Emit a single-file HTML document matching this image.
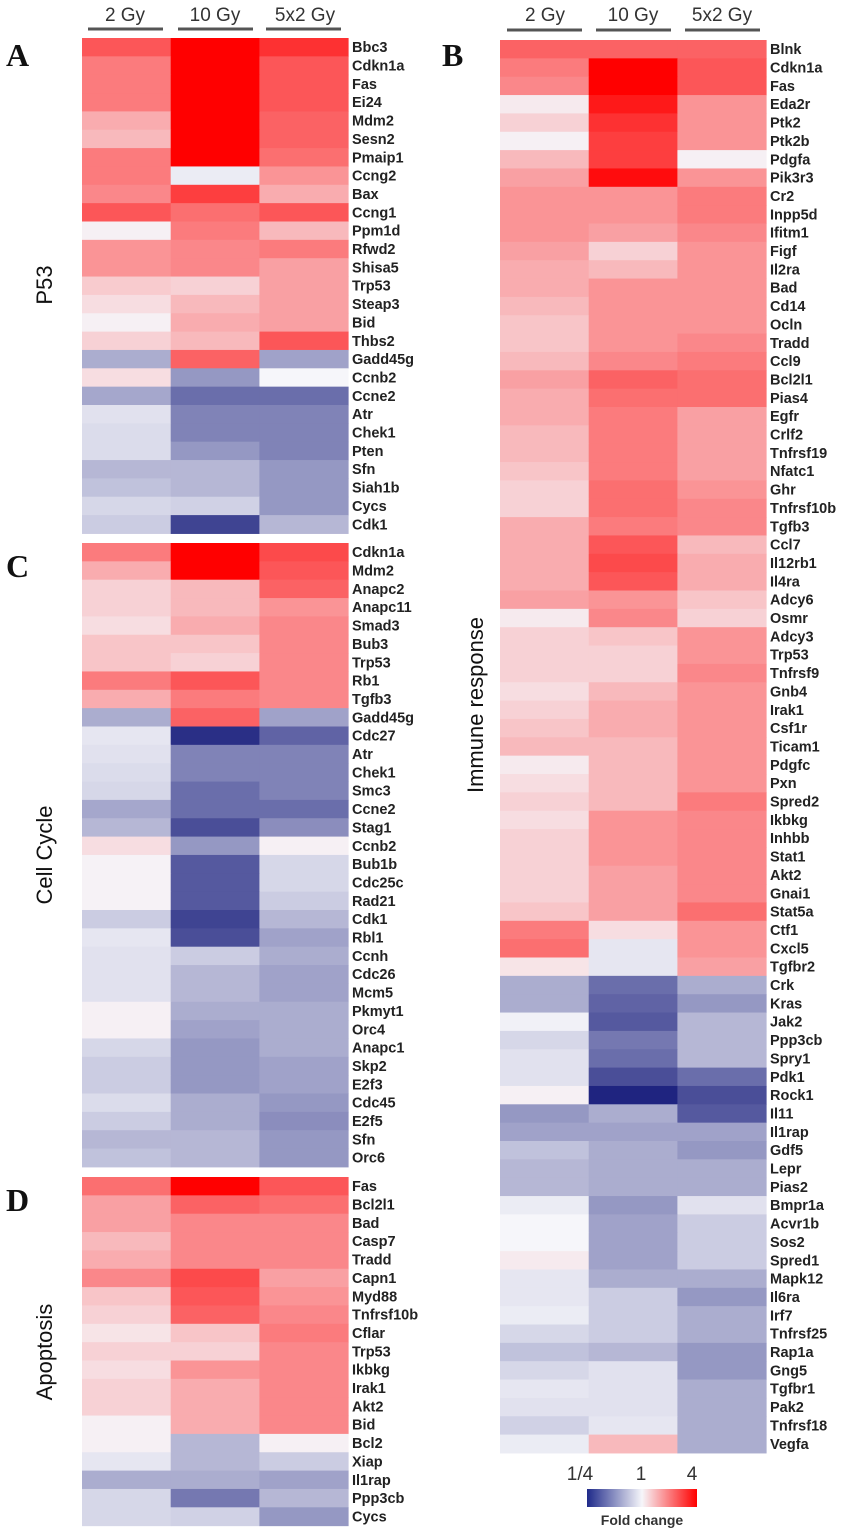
<!DOCTYPE html>
<html><head><meta charset="utf-8"><style>
html,body{margin:0;padding:0;background:#fff;}
svg{display:block;font-family:"Liberation Sans",Arial,sans-serif;}
.g{font-size:14.5px;font-weight:bold;fill:#222;}
.h{font-size:19px;fill:#333;}
.p{font-family:"Liberation Serif",serif;font-size:32px;font-weight:bold;fill:#111;}
.s{font-size:22px;fill:#111;}
</style></head><body>
<svg id="chart" width="846" height="1529" viewBox="0 0 846 1529" xmlns="http://www.w3.org/2000/svg">
<g>
<text class="h" x="125" y="21" text-anchor="middle">2 Gy</text>
<text class="h" x="215" y="21" text-anchor="middle">10 Gy</text>
<text class="h" x="305" y="21" text-anchor="middle">5x2 Gy</text>
<line x1="88" y1="29" x2="163" y2="29" stroke="#555" stroke-width="3"/>
<line x1="178" y1="29" x2="253" y2="29" stroke="#555" stroke-width="3"/>
<line x1="266" y1="29" x2="341" y2="29" stroke="#555" stroke-width="3"/>
</g>
<g>
<text class="h" x="545" y="21" text-anchor="middle">2 Gy</text>
<text class="h" x="633" y="21" text-anchor="middle">10 Gy</text>
<text class="h" x="722" y="21" text-anchor="middle">5x2 Gy</text>
<line x1="507" y1="30" x2="582" y2="30" stroke="#555" stroke-width="3"/>
<line x1="596" y1="30" x2="671" y2="30" stroke="#555" stroke-width="3"/>
<line x1="685" y1="30" x2="760" y2="30" stroke="#555" stroke-width="3"/>
</g>
<text class="p" x="6" y="66">A</text>
<text class="p" x="442" y="66">B</text>
<text class="p" x="6" y="577">C</text>
<text class="p" x="6" y="1211">D</text>
<text class="s" transform="translate(52,285) rotate(-90)" text-anchor="middle">P53</text>
<text class="s" transform="translate(52,855) rotate(-90)" text-anchor="middle">Cell Cycle</text>
<text class="s" transform="translate(52,1352) rotate(-90)" text-anchor="middle">Apoptosis</text>
<text class="s" transform="translate(483,705) rotate(-90)" text-anchor="middle">Immune response</text>
<g>
<defs><linearGradient id="lg" x1="0" x2="1" y1="0" y2="0">
<stop offset="0" stop-color="#1f2a8a"/><stop offset="0.5" stop-color="#f6f6fa"/><stop offset="1" stop-color="#ff0000"/></linearGradient></defs>
<rect x="587" y="1489" width="110" height="18" fill="url(#lg)"/>
<text class="h" x="580" y="1480" text-anchor="middle">1/4</text>
<text class="h" x="641" y="1480" text-anchor="middle">1</text>
<text class="h" x="692" y="1480" text-anchor="middle">4</text>
<text x="642" y="1525" text-anchor="middle" style="font-size:14px;font-weight:bold;fill:#333">Fold change</text>
</g>
</svg>
<script>
// log2 fold change values: [2 Gy, 10 Gy, 5x2 Gy]
const genesA = ["Bbc3","Cdkn1a","Fas","Ei24","Mdm2","Sesn2","Pmaip1","Ccng2","Bax","Ccng1","Ppm1d","Rfwd2","Shisa5","Trp53","Steap3","Bid","Thbs2","Gadd45g","Ccnb2","Ccne2","Atr","Chek1","Pten","Sfn","Siah1b","Cycs","Cdk1"];
const valsA = [[1.3,2,1.6],[1,2,1.3],[1,2,1.3],[1,2,1.3],[0.6,2,1.2],[0.5,2,1.2],[1,2,1.1],[1,-0.1,0.8],[0.9,1.5,0.6],[1.3,1.1,1.3],[0.05,1,0.5],[0.8,0.9,1],[0.8,0.9,0.7],[0.35,0.3,0.7],[0.2,0.5,0.7],[0.05,0.6,0.7],[0.3,0.5,1.3],[-0.7,1.2,-0.8],[0.2,-0.9,0],[-0.75,-1.3,-1.3],[-0.2,-1.1,-1.1],[-0.25,-1.1,-1.1],[-0.25,-0.9,-1.1],[-0.6,-0.6,-0.9],[-0.5,-0.6,-0.9],[-0.3,-0.35,-0.9],[-0.4,-1.7,-0.6]];
const genesC = ["Cdkn1a","Mdm2","Anapc2","Anapc11","Smad3","Bub3","Trp53","Rb1","Tgfb3","Gadd45g","Cdc27","Atr","Chek1","Smc3","Ccne2","Stag1","Ccnb2","Bub1b","Cdc25c","Rad21","Cdk1","Rbl1","Ccnh","Cdc26","Mcm5","Pkmyt1","Orc4","Anapc1","Skp2","E2f3","Cdc45","E2f5","Sfn","Orc6"];
const valsC = [[1,2,1.4],[0.6,2,1.3],[0.3,0.5,1.2],[0.3,0.5,0.8],[0.2,0.6,0.9],[0.4,0.4,0.9],[0.4,0.3,0.9],[1,1.3,0.9],[0.6,1,0.9],[-0.7,1.2,-0.8],[-0.15,-1.9,-1.4],[-0.2,-1.1,-1.1],[-0.25,-1.1,-1.1],[-0.3,-1.3,-1.1],[-0.75,-1.3,-1.3],[-0.6,-1.6,-1],[0.2,-0.9,0.05],[0.03,-1.5,-0.3],[0.03,-1.5,-0.3],[0.03,-1.5,-0.4],[-0.4,-1.7,-0.6],[-0.15,-1.6,-0.8],[-0.2,-0.4,-0.7],[-0.2,-0.6,-0.8],[-0.2,-0.6,-0.8],[0.05,-0.7,-0.7],[0.05,-0.8,-0.7],[-0.3,-0.9,-0.7],[-0.4,-0.9,-0.8],[-0.4,-0.9,-0.8],[-0.25,-0.7,-0.9],[-0.4,-0.7,-1],[-0.6,-0.6,-0.9],[-0.5,-0.6,-0.9]];
const genesD = ["Fas","Bcl2l1","Bad","Casp7","Tradd","Capn1","Myd88","Tnfrsf10b","Cflar","Trp53","Ikbkg","Irak1","Akt2","Bid","Bcl2","Xiap","Il1rap","Ppp3cb","Cycs"];
const valsD = [[1.1,2,1.3],[0.7,1.2,1.1],[0.7,0.9,0.9],[0.5,0.9,0.9],[0.6,0.9,0.9],[0.9,1.4,0.7],[0.4,1.3,0.8],[0.3,1.2,0.9],[0.15,0.4,1],[0.3,0.3,0.9],[0.2,0.8,0.9],[0.3,0.6,0.9],[0.3,0.6,0.9],[0.05,0.6,0.9],[0.05,-0.6,0.05],[-0.15,-0.6,-0.4],[-0.7,-0.7,-0.8],[-0.3,-1.2,-0.6],[-0.3,-0.35,-0.9]];
const genesB = ["Blnk","Cdkn1a","Fas","Eda2r","Ptk2","Ptk2b","Pdgfa","Pik3r3","Cr2","Inpp5d","Ifitm1","Figf","Il2ra","Bad","Cd14","Ocln","Tradd","Ccl9","Bcl2l1","Pias4","Egfr","Crlf2","Tnfrsf19","Nfatc1","Ghr","Tnfrsf10b","Tgfb3","Ccl7","Il12rb1","Il4ra","Adcy6","Osmr","Adcy3","Trp53","Tnfrsf9","Gnb4","Irak1","Csf1r","Ticam1","Pdgfc","Pxn","Spred2","Ikbkg","Inhbb","Stat1","Akt2","Gnai1","Stat5a","Ctf1","Cxcl5","Tgfbr2","Crk","Kras","Jak2","Ppp3cb","Spry1","Pdk1","Rock1","Il11","Il1rap","Gdf5","Lepr","Pias2","Bmpr1a","Acvr1b","Sos2","Spred1","Mapk12","Il6ra","Irf7","Tnfrsf25","Rap1a","Gng5","Tgfbr1","Pak2","Tnfrsf18","Vegfa"];
const valsB = [[1.2,1.2,1.2],[1,2,1.3],[0.9,2,1.3],[0.1,1.8,0.8],[0.3,1.6,0.8],[0.05,1.5,0.8],[0.5,1.5,0.05],[0.7,1.9,0.8],[0.8,0.8,1],[0.8,0.8,1],[0.8,0.7,0.9],[0.7,0.3,0.8],[0.6,0.5,0.8],[0.6,0.8,0.8],[0.5,0.8,0.8],[0.4,0.8,0.8],[0.4,0.8,0.9],[0.5,0.9,1],[0.7,1.2,1.1],[0.6,1.1,1.1],[0.6,1,0.7],[0.5,1,0.7],[0.5,1,0.7],[0.4,1,0.7],[0.3,1.1,0.8],[0.3,1.1,0.9],[0.6,1,0.9],[0.6,1.3,0.5],[0.6,1.4,0.6],[0.6,1.3,0.6],[0.7,0.8,0.4],[0.1,0.9,0.3],[0.3,0.4,0.8],[0.3,0.3,0.8],[0.3,0.3,0.9],[0.2,0.5,0.8],[0.3,0.6,0.8],[0.4,0.6,0.8],[0.5,0.5,0.8],[0.1,0.5,0.8],[0.2,0.5,0.8],[0.3,0.5,1],[0.2,0.8,0.9],[0.3,0.8,0.9],[0.3,0.8,0.9],[0.3,0.7,0.9],[0.3,0.7,0.9],[0.4,0.7,1.1],[1,0.2,0.8],[1.1,-0.15,0.8],[0.15,-0.15,0.7],[-0.7,-1.3,-0.7],[-0.7,-1.4,-0.9],[-0.05,-1.5,-0.6],[-0.3,-1.2,-0.6],[-0.2,-1.3,-0.6],[-0.2,-1.6,-1.3],[0.05,-2,-1.6],[-0.9,-0.7,-1.5],[-0.8,-0.8,-0.8],[-0.5,-0.7,-0.9],[-0.6,-0.7,-0.7],[-0.6,-0.7,-0.7],[-0.1,-0.9,-0.2],[0,-0.8,-0.4],[0,-0.8,-0.4],[0.1,-0.8,-0.4],[-0.15,-0.7,-0.7],[-0.15,-0.4,-0.9],[-0.1,-0.4,-0.7],[-0.3,-0.4,-0.7],[-0.5,-0.6,-0.9],[-0.3,-0.2,-0.9],[-0.15,-0.2,-0.7],[-0.2,-0.2,-0.7],[-0.35,-0.15,-0.7],[-0.1,0.5,-0.7]];

const NS = "http://www.w3.org/2000/svg";
const svg = document.getElementById("chart");
const ROW = 18.35;
function color(v){
  v = Math.max(-2, Math.min(2, v));
  const w = [246,246,250];
  let c;
  if (v >= 0){ const t=v/2; c=[w[0]+(255-w[0])*t, w[1]*(1-t), w[2]*(1-t)]; }
  else { const t=-v/2; const b=[31,36,128]; c=[w[0]+(b[0]-w[0])*t, w[1]+(b[1]-w[1])*t, w[2]+(b[2]-w[2])*t]; }
  return "rgb("+c.map(Math.round).join(",")+")";
}
function panel(name, genes, vals, x0, colW, y0, labelX){
  const g = document.createElementNS(NS, "g");
  
  
  svg.appendChild(g);
  const yScale = i => y0 + i*ROW;
  const xScale = j => x0 + j*colW;
  genes.forEach((gene, i) => {
    vals[i].forEach((v, j) => {
      const r = document.createElementNS(NS, "rect");
      r.setAttribute("x", xScale(j));
      r.setAttribute("y", yScale(i));
      r.setAttribute("width", colW + 0.5);
      r.setAttribute("height", ROW + 0.5);
      r.setAttribute("fill", color(v));
      
      
      g.appendChild(r);
    });
    const t = document.createElementNS(NS, "text");
    t.setAttribute("x", labelX);
    t.setAttribute("y", yScale(i) + ROW/2 + 5);
    t.setAttribute("class", "g");
    t.textContent = gene;
    
    
    g.appendChild(t);
  });
}
panel("heatmap-p53", genesA, valsA, 82, 88.7, 38, 352);
panel("heatmap-cell-cycle", genesC, valsC, 82, 88.7, 543, 352);
panel("heatmap-apoptosis", genesD, valsD, 82, 88.7, 1177, 352);
panel("heatmap-immune-response", genesB, valsB, 500, 88.7, 40, 770);
</script>
</body></html>
